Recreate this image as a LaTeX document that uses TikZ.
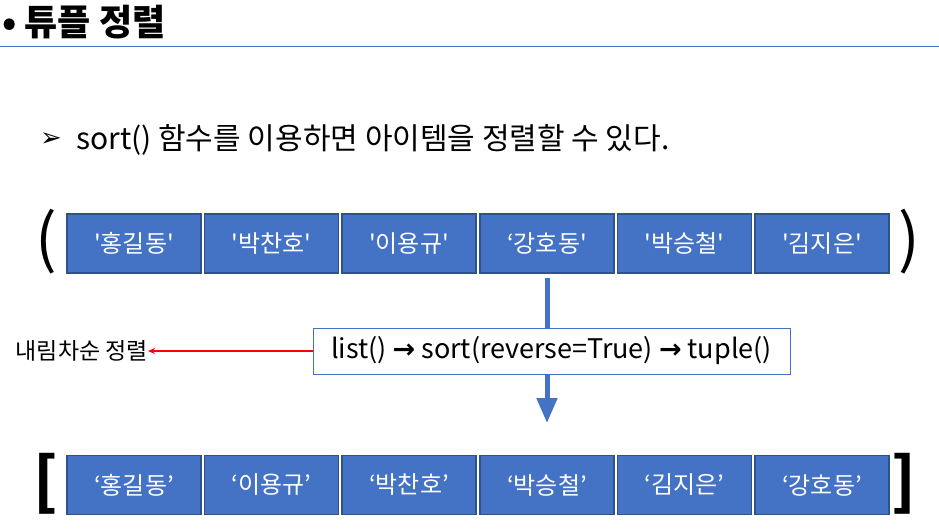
\documentclass[tikz,border=0pt]{standalone}
\usepackage{fontspec}
\setmainfont{Noto Sans CJK KR}
\newfontfamily\symfont{DejaVu Sans}
\usetikzlibrary{arrows.meta,positioning}
\definecolor{boxblue}{RGB}{68,114,196}
\definecolor{boxedge}{RGB}{47,82,143}
\newcommand{\sq}{\textquotesingle}
\newcommand{\harrow}{{\symfont\bfseries →}}

\begin{document}
\begin{tikzpicture}[x=1pt,y=-1pt,
  item/.style={draw=boxedge,line width=1.5pt,fill=boxblue,text=white,
    minimum width=134pt,minimum height=59pt,inner sep=0pt,
    font=\fontsize{24}{24}\selectfont},
  brace/.style={inner sep=0pt,font=\fontsize{64}{64}\selectfont},
  bracket/.style={inner sep=0pt,font=\fontsize{62}{62}\selectfont\bfseries}]
\useasboundingbox (0,0) rectangle (939,532);
% title and rule
\node[anchor=west,inner sep=0pt] (title) at (2,22) {\fontsize{36}{36}\selectfont\bfseries • 튜플 정렬};
\draw[boxblue,line width=1.5pt] (0,46.5) -- (939,46.5);
\node[anchor=west,inner sep=0pt] (mark) at (40,140) {\symfont\fontsize{26}{26}\selectfont ➢};
\node[anchor=west,inner sep=0pt] (sub) at (76,140) {\fontsize{30}{30}\selectfont sort() 함수를 이용하면 아이템을 정렬할 수 있다.};
% tuple
\node[brace] (lp) at (46,242) {(};
\node[item] (t1) at (134,243.5) {\sq{}홍길동\sq};
\node[item] (t2) at (271.5,243.5) {\sq{}박찬호\sq};
\node[item] (t3) at (409,243.5) {\sq{}이용규\sq};
\node[item] (t4) at (547,243.5) {‘강호동\sq};
\node[item] (t5) at (684.5,243.5) {\sq{}박승철\sq};
\node[item] (t6) at (822,243.5) {\sq{}김지은\sq};
\node[brace] (rp) at (909,242) {)};
% conversion
\coordinate (tip) at (547,423);
\draw[boxblue,line width=5pt,-{Triangle[width=20pt,length=25pt]},shorten <=4pt] (t4.south) -- (tip);
\node[draw=boxblue,fill=white,line width=0.8pt,minimum width=477pt,minimum height=46pt,
  font=\fontsize{27}{27}\selectfont] (conv) at (551.5,351) {list() \harrow{} sort(reverse=True) \harrow{} tuple()};
\node[anchor=east,inner sep=0pt,font=\fontsize{23}{23}\selectfont] (desc) at (148,351) {내림차순 정렬};
\draw[red,line width=1.2pt,-{Stealth[length=7pt,width=6pt]}] (conv.west) -- (desc.east);
% list
\node[bracket] (lb) at (46,484) {[};
\node[item] (s1) at (134,485) {‘홍길동’};
\node[item] (s2) at (271.5,485) {‘이용규’};
\node[item] (s3) at (409,485) {‘박찬호’};
\node[item] (s4) at (547,485) {‘박승철’};
\node[item] (s5) at (684.5,485) {‘김지은’};
\node[item] (s6) at (822,485) {‘강호동’};
\node[bracket] (rb) at (904,484) {]};
\end{tikzpicture}
\end{document}
